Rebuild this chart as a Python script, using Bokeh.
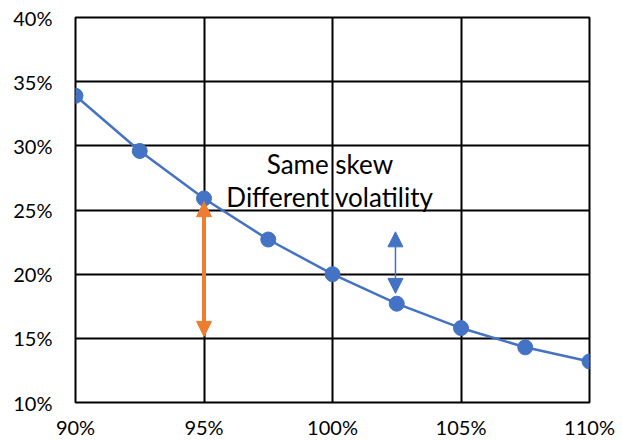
from bokeh.plotting import figure
from bokeh.models import Range1d, FixedTicker, PrintfTickFormatter, Arrow, NormalHead, Label
from bokeh.embed import file_html
from bokeh.resources import INLINE

# data
moneyness = [90, 92.5, 95, 97.5, 100, 102.5, 105, 107.5, 110]
implied_vol = [33.9, 29.6, 25.9, 22.7, 20.0, 17.7, 15.8, 14.3, 13.2]
x_ticks = [90, 95, 100, 105, 110]
y_ticks = [10, 15, 20, 25, 30, 35, 40]

# annotation arrows (strike, low vol, high vol)
orange_arrow = [95, 15.15, 25.65]
blue_arrow = [102.45, 18.5, 23.3]
note_lines = ["Same skew", "Different volatility"]
note_x = 99.9
note_y = [28.6, 26.0]

FONT = "Lato"
BLUE = "#4472C4"
ORANGE = "#ED7D31"

p = figure(width=622, height=441, output_backend="svg", toolbar_location=None,
           x_range=Range1d(90, 110), y_range=Range1d(10, 40),
           min_border_left=75, min_border_right=33, min_border_top=17, min_border_bottom=38)
p.background_fill_color = "white"
p.border_fill_color = "white"
p.outline_line_color = "black"
p.outline_line_width = 2

for ax in (p.xaxis[0], p.yaxis[0]):
    ax.axis_line_color = None
    ax.major_tick_line_color = None
    ax.minor_tick_line_color = None
    ax.major_tick_out = 0
    ax.major_tick_in = 0
    ax.major_label_text_font = FONT
    ax.major_label_text_font_size = "20px"
    ax.major_label_text_color = "black"
    ax.formatter = PrintfTickFormatter(format="%d%%")

p.xaxis[0].ticker = FixedTicker(ticks=x_ticks)
p.yaxis[0].ticker = FixedTicker(ticks=y_ticks)
p.xaxis[0].major_label_standoff = 12
p.yaxis[0].major_label_standoff = 23

p.xgrid[0].ticker = FixedTicker(ticks=x_ticks)
p.ygrid[0].ticker = FixedTicker(ticks=y_ticks)
for g in (p.xgrid[0], p.ygrid[0]):
    g.grid_line_color = "black"
    g.grid_line_width = 2
    g.grid_line_alpha = 1

p.line(moneyness, implied_vol, line_color=BLUE, line_width=2.5)
p.scatter(moneyness, implied_vol, size=15, fill_color=BLUE, line_color=BLUE)

p.add_layout(Arrow(x_start=orange_arrow[0], y_start=orange_arrow[1],
                   x_end=orange_arrow[0], y_end=orange_arrow[2],
                   line_color=ORANGE, line_width=4,
                   start=NormalHead(size=15, fill_color=ORANGE, line_color=ORANGE, line_width=1),
                   end=NormalHead(size=15, fill_color=ORANGE, line_color=ORANGE, line_width=1)))
p.add_layout(Arrow(x_start=blue_arrow[0], y_start=blue_arrow[1],
                   x_end=blue_arrow[0], y_end=blue_arrow[2],
                   line_color=BLUE, line_width=1.5,
                   start=NormalHead(size=15, fill_color=BLUE, line_color=BLUE, line_width=1),
                   end=NormalHead(size=15, fill_color=BLUE, line_color=BLUE, line_width=1)))

for txt, yy in zip(note_lines, note_y):
    p.add_layout(Label(x=note_x, y=yy, text=txt, text_align="center",
                       text_baseline="alphabetic", text_font=FONT,
                       text_font_size="26px", text_color="black"))

open("out.html", "w").write(file_html(p, INLINE))
